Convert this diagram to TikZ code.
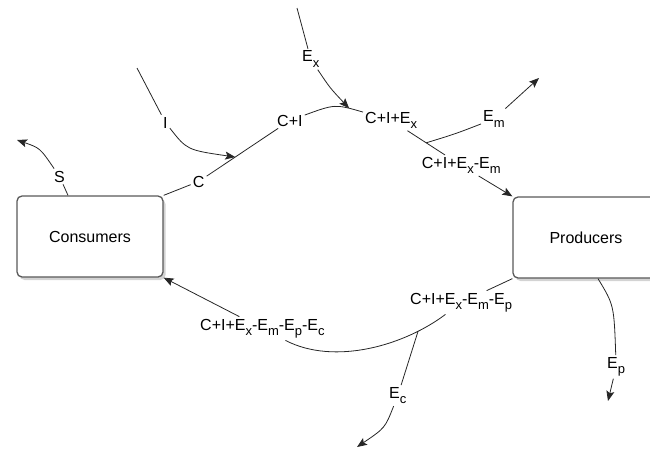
\documentclass[tikz,border=0pt]{standalone}
\usepackage{fontspec}
\setmainfont{Liberation Sans}
\usetikzlibrary{arrows.meta,shadows}
\newcommand{\lo}[1]{\raisebox{-5.5pt}{\fontsize{13}{13}\selectfont #1}}

\begin{document}
\begin{tikzpicture}[x=1pt,y=-1pt,
    font=\fontsize{16}{18}\selectfont,
    sector/.style={draw=black!65,line width=1.3pt,rounded corners=5pt,fill=white,
      minimum width=146pt,minimum height=81pt,
      drop shadow={shadow xshift=2.5pt,shadow yshift=-3pt,opacity=0.35}},
    lbl/.style={anchor=base west,inner sep=2pt},
    flow/.style={draw=black!85,line width=0.8pt},
    arr/.style={flow,-{Stealth[length=10pt,width=8pt,inset=2pt]}}]
  \useasboundingbox (0,0) rectangle (650,452);

  % the two sectors
  \node[sector] (cons) at (90,236.5) {Consumers};
  \node[sector] (prod) at (586,237.5) {Producers};

  % labels on the flows
  \node[lbl] (s) at (52,182) {S};
  \node[lbl] (c) at (190.7,187) {C};
  \node[lbl] (i) at (161,128) {I};
  \node[lbl] (ci) at (275,126) {C+I};
  \node[lbl] (ex) at (300,62) {E\lo{x}};
  \node[lbl] (cix) at (363,123) {C+I+E\lo{x}};
  \node[lbl] (em) at (481,121.7) {E\lo{m}};
  \node[lbl] (cixm) at (419.7,168.3) {C+I+E\lo{x}-E\lo{m}};
  \node[lbl] (cixmp) at (408,304) {C+I+E\lo{x}-E\lo{m}-E\lo{p}};
  \node[lbl] (all) at (198,330) {C+I+E\lo{x}-E\lo{m}-E\lo{p}-E\lo{c}};
  \node[lbl] (ec) at (387,398.3) {E\lo{c}};
  \node[lbl] (ep) at (605,368.3) {E\lo{p}};

  % loose ends
  \coordinate (itop) at (137,68);
  \coordinate (extop) at (297,8);
  \coordinate (sout) at (17,140);
  \coordinate (emout) at (539,78);
  \coordinate (ecout) at (357,447);
  \coordinate (epout) at (608,401);

  % upper half of the circuit
  \draw[flow] (cons.north east) -- (c);
  \draw[flow] (c) -- (ci) coordinate[pos=0.4] (jci);
  \draw[flow] (itop) -- (i);
  \draw[arr] (i) .. controls (187,150) .. (jci);
  \draw[flow] (ci) .. controls (335,104) .. (cix) coordinate[pos=0.8] (jx);
  \draw[flow] (extop) -- (ex);
  \draw[arr] (ex) .. controls (330,88) .. (jx);
  \draw[flow] (cix) -- (cixm) coordinate[pos=0.5] (jm);
  \draw[flow] (jm) .. controls (455,134) .. (em);
  \draw[arr] (em) -- (emout);
  \draw[arr] (cixm) -- (prod.north west);

  % lower half of the circuit
  \draw[flow] (prod.south west) -- (cixmp);
  \draw[flow] (cixmp) .. controls (405,345) and (335,366) .. (all) coordinate[pos=0.2] (jc);
  \draw[flow] (jc) -- (ec);
  \draw[arr] (ec) .. controls (385,428) .. (ecout);
  \draw[arr] (all) -- (cons.south east);
  \draw[flow] ([xshift=12pt]prod.south) .. controls (614,305) .. (ep);
  \draw[arr] (ep) -- (epout);

  % savings
  \draw[flow] ([xshift=-22pt]cons.north) -- (s);
  \draw[arr] (s) .. controls (40,148) .. (sout);
\end{tikzpicture}
\end{document}
